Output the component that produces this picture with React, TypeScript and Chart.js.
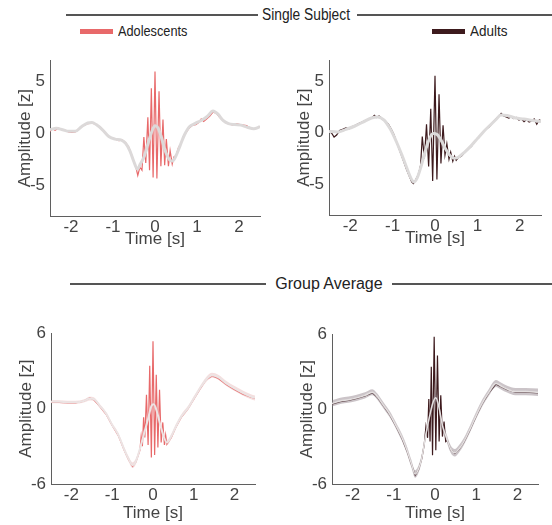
import React, { useEffect, useRef } from 'react';
import { Chart, registerables } from 'chart.js';

Chart.register(...registerables);

const FONT = "'Liberation Sans', Arial, Helvetica, sans-serif";

type Pt = [number, number];

// ---- axis ticks ----
const xTicks = [-2, -1, 0, 1, 2];
const yTicksSingle = [-5, 0, 5];
const yTicksGroup = [-6, 0, 6];

// ---- Panel 1: single subject, adolescents ----
const p1Base: Pt[] = [
  [-2.5, 0.3], [-2.35, 0.45], [-2.2, 0.3], [-2.05, 0.15], [-1.9, 0.15], [-1.75, 0.6], [-1.6, 0.95], [-1.5, 1.0],
  [-1.4, 0.8], [-1.25, 0.3], [-1.1, -0.35], [-0.95, -0.6], [-0.8, -0.7], [-0.7, -1.0], [-0.6, -1.7], [-0.5, -2.8],
  [-0.42, -3.5], [-0.35, -3.0], [-0.25, -2.2], [-0.15, -0.8], [-0.05, 0.4], [0, 0.7], [0.07, 0.5], [0.15, -0.4],
  [0.25, -1.8], [0.35, -2.6], [0.42, -2.7], [0.5, -2.2], [0.6, -1.2], [0.7, -0.2], [0.82, 0.6], [0.95, 0.9],
  [1.1, 1.2], [1.25, 1.6], [1.38, 2.1], [1.5, 1.8], [1.62, 1.2], [1.75, 0.9], [1.9, 0.8], [2.05, 0.75],
  [2.2, 0.55], [2.35, 0.4], [2.5, 0.6],
];
const p1Signal: Pt[] = [
  [-2.5, 0.15], [-2.44, 0.4], [-2.38, 0.25], [-2.3, 0.45], [-2.22, 0.3], [-2.14, 0.25], [-2.06, 0.1], [-1.98, 0.05],
  [-1.9, 0.1], [-1.8, 0.45], [-1.7, 0.7], [-1.6, 0.9], [-1.5, 0.95], [-1.42, 0.85], [-1.34, 0.65], [-1.26, 0.4],
  [-1.18, -0.05], [-1.1, -0.35], [-1.02, -0.5], [-0.94, -0.6], [-0.86, -0.75], [-0.78, -0.7], [-0.7, -0.95], [-0.62, -1.4],
  [-0.55, -2.2], [-0.49, -2.9], [-0.45, -3.4], [-0.41, -4.1], [-0.36, -3.3], [-0.31, -3.6], [-0.265, -0.4], [-0.22, -2.9],
  [-0.17, 1.5], [-0.13, -3.6], [-0.087, 4.3], [-0.045, -4.3], [0, 5.9], [0.045, -4.4], [0.096, 4.0], [0.14, -3.2],
  [0.19, 1.3], [0.23, -3.1], [0.27, -0.6], [0.32, -3.2], [0.36, -1.7], [0.41, -3.0], [0.45, -2.3], [0.5, -2.2],
  [0.56, -1.4], [0.62, -1.0], [0.68, -0.3], [0.75, 0.1], [0.82, 0.5], [0.9, 0.75], [0.97, 0.8], [1.04, 1.0],
  [1.1, 1.35], [1.16, 1.1], [1.22, 1.3], [1.3, 1.6], [1.38, 2.0], [1.46, 1.9], [1.54, 1.5], [1.62, 1.2],
  [1.7, 0.95], [1.78, 0.85], [1.86, 0.75], [1.94, 0.9], [2.02, 0.8], [2.1, 0.75], [2.18, 0.7], [2.26, 0.5],
  [2.34, 0.35], [2.42, 0.45], [2.5, 0.6],
];

// ---- Panel 2: single subject, adults ----
const p2Base: Pt[] = [
  [-2.5, 0.1], [-2.3, 0.05], [-2.1, 0.3], [-1.9, 0.6], [-1.7, 1.0], [-1.5, 1.4], [-1.35, 1.5], [-1.2, 1.2],
  [-1.05, 0.3], [-0.9, -1.0], [-0.78, -2.2], [-0.66, -3.5], [-0.56, -4.5], [-0.5, -4.8], [-0.42, -4.4], [-0.33, -3.3],
  [-0.25, -2.1], [-0.15, -0.8], [-0.05, -0.1], [0.05, -0.2], [0.15, -0.8], [0.25, -1.6], [0.35, -2.2], [0.45, -2.5],
  [0.55, -2.4], [0.7, -1.9], [0.85, -1.3], [1.0, -0.6], [1.15, 0.1], [1.3, 0.7], [1.45, 1.3], [1.55, 1.7],
  [1.7, 1.65], [1.9, 1.4], [2.1, 1.3], [2.3, 1.15], [2.5, 1.05],
];
const p2Signal: Pt[] = [
  [-2.5, 0.05], [-2.44, -0.05], [-2.38, -0.45], [-2.32, -0.25], [-2.25, 0.2], [-2.18, 0.3], [-2.1, 0.45], [-2.03, 0.35],
  [-1.96, 0.55], [-1.88, 0.7], [-1.8, 0.85], [-1.72, 1.0], [-1.64, 1.15], [-1.56, 1.3], [-1.48, 1.45], [-1.43, 1.65],
  [-1.38, 1.45], [-1.32, 1.6], [-1.26, 1.35], [-1.18, 1.1], [-1.1, 0.8], [-1.03, 0.3], [-0.97, -0.2], [-0.9, -1.0],
  [-0.82, -1.9], [-0.74, -2.8], [-0.67, -3.6], [-0.6, -4.3], [-0.55, -4.8], [-0.51, -4.95], [-0.47, -4.7], [-0.42, -4.3],
  [-0.38, -3.9], [-0.34, -3.2], [-0.3, -0.4], [-0.25, -2.5], [-0.2, 0.8], [-0.15, -3.3], [-0.1, 2.3], [-0.055, -4.7],
  [0, 5.5], [0.045, -4.55], [0.095, 3.7], [0.14, -3.0], [0.19, 0.7], [0.235, -2.2], [0.28, -1.1], [0.33, -2.6],
  [0.37, -1.9], [0.42, -2.8], [0.46, -2.3], [0.5, -2.7], [0.55, -2.45], [0.62, -2.3], [0.7, -1.95], [0.78, -1.6],
  [0.86, -1.35], [0.94, -0.85], [1.0, -0.55], [1.06, -0.35], [1.12, -0.05], [1.2, 0.3], [1.28, 0.55], [1.36, 0.95],
  [1.44, 1.3], [1.52, 1.65], [1.56, 1.85], [1.62, 1.6], [1.68, 1.5], [1.74, 1.4], [1.8, 1.5], [1.86, 1.35],
  [1.92, 1.45], [1.98, 1.2], [2.04, 1.3], [2.1, 1.05], [2.16, 1.25], [2.22, 1.0], [2.28, 1.1], [2.34, 1.3],
  [2.4, 0.8], [2.46, 1.2], [2.5, 1.15],
];

// ---- Panel 3: group average, adolescents ----
const p3Base: Pt[] = [
  [-2.5, 0.55], [-2.3, 0.55], [-2.1, 0.5], [-1.9, 0.5], [-1.7, 0.6], [-1.55, 0.8], [-1.45, 0.75], [-1.3, 0.2],
  [-1.15, -0.4], [-1.0, -1.3], [-0.85, -2.1], [-0.7, -3.3], [-0.6, -4.0], [-0.5, -4.5], [-0.42, -4.2], [-0.32, -3.2],
  [-0.22, -2.0], [-0.12, -0.8], [-0.04, 0.2], [0.02, 0.35], [0.1, -0.3], [0.18, -1.3], [0.26, -2.2], [0.34, -2.7],
  [0.45, -2.2], [0.55, -1.5], [0.7, -0.6], [0.85, 0.0], [1.0, 0.8], [1.15, 1.6], [1.3, 2.3], [1.45, 2.65],
  [1.6, 2.5], [1.8, 2.0], [2.0, 1.6], [2.2, 1.25], [2.4, 0.95], [2.5, 0.85],
];
const p3Sem = [
  0.12, 0.12, 0.12, 0.12, 0.12, 0.15, 0.15, 0.15, 0.15, 0.15, 0.18, 0.2, 0.2, 0.22, 0.22, 0.2,
  0.2, 0.2, 0.2, 0.2, 0.2, 0.2, 0.2, 0.2, 0.2, 0.2, 0.18, 0.18, 0.18, 0.18, 0.2, 0.2,
  0.2, 0.2, 0.2, 0.2, 0.2, 0.2,
];
const p3Signal: Pt[] = [
  [-2.5, 0.5], [-2.3, 0.5], [-2.1, 0.45], [-1.9, 0.45], [-1.7, 0.6], [-1.55, 0.85], [-1.45, 0.7], [-1.3, 0.15],
  [-1.15, -0.45], [-1.0, -1.35], [-0.85, -2.15], [-0.7, -3.35], [-0.6, -4.05], [-0.5, -4.6], [-0.42, -4.25], [-0.36, -3.7],
  [-0.32, -3.3], [-0.29, -2.2], [-0.26, -3.0], [-0.23, -0.7], [-0.2, -2.3], [-0.16, 1.1], [-0.12, -2.9], [-0.08, 3.4],
  [-0.04, -3.9], [0, 5.35], [0.04, -3.7], [0.08, 2.7], [0.12, -3.1], [0.16, 1.5], [0.2, -2.7], [0.24, -1.1],
  [0.28, -2.9], [0.31, -2.1], [0.34, -2.85], [0.45, -2.3], [0.55, -1.55], [0.7, -0.65], [0.85, -0.05], [1.0, 0.75],
  [1.15, 1.55], [1.3, 2.3], [1.45, 2.6], [1.6, 2.4], [1.8, 1.9], [2.0, 1.5], [2.2, 1.15], [2.4, 0.9],
  [2.5, 0.8],
];

// ---- Panel 4: group average, adults ----
const p4Base: Pt[] = [
  [-2.5, 0.45], [-2.3, 0.65], [-2.1, 0.75], [-1.9, 0.9], [-1.7, 1.1], [-1.52, 1.35], [-1.4, 1.0], [-1.25, 0.3],
  [-1.1, -0.4], [-0.95, -1.3], [-0.8, -2.3], [-0.68, -3.3], [-0.58, -4.3], [-0.48, -5.2], [-0.4, -4.8], [-0.32, -3.9],
  [-0.22, -2.0], [-0.12, -0.4], [-0.04, 0.6], [0.02, 0.9], [0.1, 0.1], [0.18, -1.3], [0.28, -2.3], [0.38, -3.2],
  [0.48, -3.5], [0.58, -3.2], [0.7, -2.6], [0.85, -1.6], [1.0, -0.5], [1.15, 0.5], [1.3, 1.3], [1.48, 2.05],
  [1.6, 1.85], [1.75, 1.6], [1.95, 1.4], [2.2, 1.4], [2.5, 1.35],
];
const p4Sem = [
  0.25, 0.25, 0.25, 0.25, 0.25, 0.25, 0.25, 0.25, 0.25, 0.25, 0.28, 0.3, 0.3, 0.3, 0.3, 0.3,
  0.3, 0.3, 0.3, 0.3, 0.3, 0.3, 0.3, 0.3, 0.3, 0.3, 0.28, 0.28, 0.28, 0.28, 0.28, 0.28,
  0.28, 0.28, 0.3, 0.3, 0.3,
];
const p4Signal: Pt[] = [
  [-2.5, 0.4], [-2.3, 0.6], [-2.1, 0.7], [-1.9, 0.85], [-1.7, 1.05], [-1.52, 1.3], [-1.4, 0.95], [-1.25, 0.25],
  [-1.1, -0.45], [-0.95, -1.35], [-0.8, -2.35], [-0.68, -3.35], [-0.58, -4.35], [-0.48, -5.3], [-0.4, -4.85], [-0.32, -3.95],
  [-0.26, -2.8], [-0.22, -1.4], [-0.18, -2.3], [-0.15, 0.8], [-0.12, -2.6], [-0.09, 3.4], [-0.06, -3.7], [-0.02, 5.8],
  [0.02, -3.3], [0.06, 4.3], [0.1, -2.6], [0.14, 1.1], [0.18, -2.2], [0.22, -1.0], [0.26, -2.6], [0.3, -2.5],
  [0.38, -3.25], [0.48, -3.55], [0.58, -3.25], [0.7, -2.65], [0.85, -1.65], [1.0, -0.55], [1.15, 0.45], [1.3, 1.25],
  [1.48, 2.0], [1.6, 1.8], [1.75, 1.55], [1.95, 1.35], [2.2, 1.35], [2.5, 1.3],
];

const RED = '#e8696a';
const DARK = '#3d1a1d';

interface PanelSpec {
  l: number; r: number; t: number; b: number;
  yMin: number; yMax: number; yTicks: number[];
  base: Pt[]; signal: Pt[]; sem?: number[];
  sigColor: string; sigWidth: number;
  baseColor: string; baseWidth: number;
  bandColor?: string;
  xTitlePad: number;
}

const panels: PanelSpec[] = [
  { l: 50, r: 260, t: 55, b: 216, yMin: -8, yMax: 7, yTicks: yTicksSingle, base: p1Base, signal: p1Signal,
    sigColor: RED, sigWidth: 1.2, baseColor: '#dcd9d9', baseWidth: 3, xTitlePad: 8.5 },
  { l: 329, r: 541, t: 55, b: 215, yMin: -8, yMax: 7, yTicks: yTicksSingle, base: p2Base, signal: p2Signal,
    sigColor: DARK, sigWidth: 1.2, baseColor: '#dcdada', baseWidth: 3, xTitlePad: 8.5 },
  { l: 51, r: 255, t: 328, b: 484, yMin: -6, yMax: 6, yTicks: yTicksGroup, base: p3Base, signal: p3Signal, sem: p3Sem,
    sigColor: RED, sigWidth: 1.2, baseColor: '#ece4e4', baseWidth: 2, bandColor: 'rgba(225,160,160,0.35)', xTitlePad: 2 },
  { l: 332, r: 538, t: 329, b: 484, yMin: -6, yMax: 6, yTicks: yTicksGroup, base: p4Base, signal: p4Signal, sem: p4Sem,
    sigColor: DARK, sigWidth: 1.2, baseColor: '#e4e0e0', baseWidth: 1.5, bandColor: 'rgba(140,125,132,0.45)', xTitlePad: 2 },
];

function Panel({ spec }: { spec: PanelSpec }) {
  const ref = useRef<HTMLCanvasElement>(null);
  const left = spec.l - 50;
  const top = spec.t - 10;
  const width = spec.r - spec.l + 62;
  const height = spec.b - spec.t + 52;

  useEffect(() => {
    const toXY = (arr: Pt[]) => arr.map(([x, y]) => ({ x, y }));
    const datasets: any[] = [];
    datasets.push({
      data: toXY(spec.base), borderColor: spec.baseColor, borderWidth: spec.baseWidth,
      cubicInterpolationMode: 'monotone', fill: false, order: 0,
    });
    datasets.push({
      data: toXY(spec.signal), borderColor: spec.sigColor, borderWidth: spec.sigWidth,
      tension: 0, fill: false, order: 2,
    });
    if (spec.sem && spec.bandColor) {
      const sem = spec.sem;
      datasets.push({
        data: spec.base.map(([x, y], i) => ({ x, y: y + sem[i] })), borderWidth: 0, borderColor: 'rgba(0,0,0,0)',
        backgroundColor: spec.bandColor, fill: '+1', cubicInterpolationMode: 'monotone', order: 1,
      });
      datasets.push({
        data: spec.base.map(([x, y], i) => ({ x, y: y - sem[i] })), borderWidth: 0, borderColor: 'rgba(0,0,0,0)',
        fill: false, cubicInterpolationMode: 'monotone', order: 1,
      });
    }
    const tickFont = { family: FONT, size: 17 };
    const chart = new Chart(ref.current!, {
      type: 'line',
      data: { datasets },
      options: {
        animation: false,
        responsive: false,
        events: [],
        elements: { point: { radius: 0 } },
        layout: { padding: { left: 0, top: 10, right: 12, bottom: 0 } },
        plugins: { legend: { display: false }, tooltip: { enabled: false } },
        scales: {
          x: {
            type: 'linear', min: -2.5, max: 2.5,
            afterBuildTicks: (s: any) => { s.ticks = xTicks.map((v) => ({ value: v })); },
            afterFit: (s: any) => { s.height = 42; },
            grid: { display: true, drawOnChartArea: false, drawTicks: false },
            border: { display: true, color: '#5f5f5f', width: 1 },
            ticks: { padding: 1, color: '#444', font: tickFont, maxRotation: 0, autoSkip: false, callback: (v: any) => String(v) },
            title: { display: true, text: 'Time [s]', color: '#444', font: tickFont, padding: { top: 0, bottom: spec.xTitlePad } },
          },
          y: {
            type: 'linear', min: spec.yMin, max: spec.yMax,
            afterBuildTicks: (s: any) => { s.ticks = spec.yTicks.map((v) => ({ value: v })); },
            afterFit: (s: any) => { s.width = 50; },
            grid: { display: true, drawOnChartArea: false, drawTicks: false },
            border: { display: true, color: '#5f5f5f', width: 1 },
            ticks: { padding: 5, color: '#444', font: tickFont, autoSkip: false, callback: (v: any) => String(v) },
            title: { display: true, text: 'Amplitude [z]', color: '#444', font: tickFont, padding: { top: 15, bottom: 0 } },
          },
        },
      } as any,
    });
    return () => chart.destroy();
  }, []);

  return (
    <canvas ref={ref} width={width} height={height}
      style={{ position: 'absolute', left, top, width, height }} />
  );
}

function Header({ text, cx, cy, x0, gapL, gapR, size, sx }: { text: string; cx: number; cy: number; x0: number; gapL: number; gapR: number; size: number; sx: number }) {
  return (
    <>
      <div style={{ position: 'absolute', left: x0, top: cy - 1, width: gapL - x0, height: 2, background: '#555' }} />
      <div style={{ position: 'absolute', left: gapR, top: cy - 1, width: 552 - gapR, height: 2, background: '#555' }} />
      <div style={{ position: 'absolute', left: cx - 100, width: 200, top: cy - 11, height: 22, lineHeight: '22px',
        textAlign: 'center', fontFamily: FONT, fontSize: size, color: '#222', whiteSpace: 'nowrap',
        transform: `scaleX(${sx})` }}>{text}</div>
    </>
  );
}

function LegendItem({ x, y, color, label, sx }: { x: number; y: number; color: string; label: string; sx: number }) {
  return (
    <>
      <div style={{ position: 'absolute', left: x, top: y - 2.5, width: 33, height: 5, background: color }} />
      <div style={{ position: 'absolute', left: x + 38, top: y - 10, height: 20, lineHeight: '20px',
        fontFamily: FONT, fontSize: 15, color: '#222', whiteSpace: 'nowrap',
        transform: `scaleX(${sx})`, transformOrigin: 'left center' }}>{label}</div>
    </>
  );
}

export default function App() {
  return (
    <div style={{ position: 'absolute', left: 0, top: 0, width: 552, height: 525, background: '#fff', overflow: 'hidden' }}>
      <Header text="Single Subject" cx={306} cy={15} x0={66} gapL={258} gapR={357} size={16} sx={0.86} />
      <LegendItem x={80} y={31} color={RED} label="Adolescents" sx={0.85} />
      <LegendItem x={432} y={31} color={DARK} label="Adults" sx={0.9} />
      <Header text="Group Average" cx={329} cy={284} x0={70} gapL={266} gapR={392} size={16} sx={1} />
      {panels.map((p, i) => <Panel key={i} spec={p} />)}
    </div>
  );
}
